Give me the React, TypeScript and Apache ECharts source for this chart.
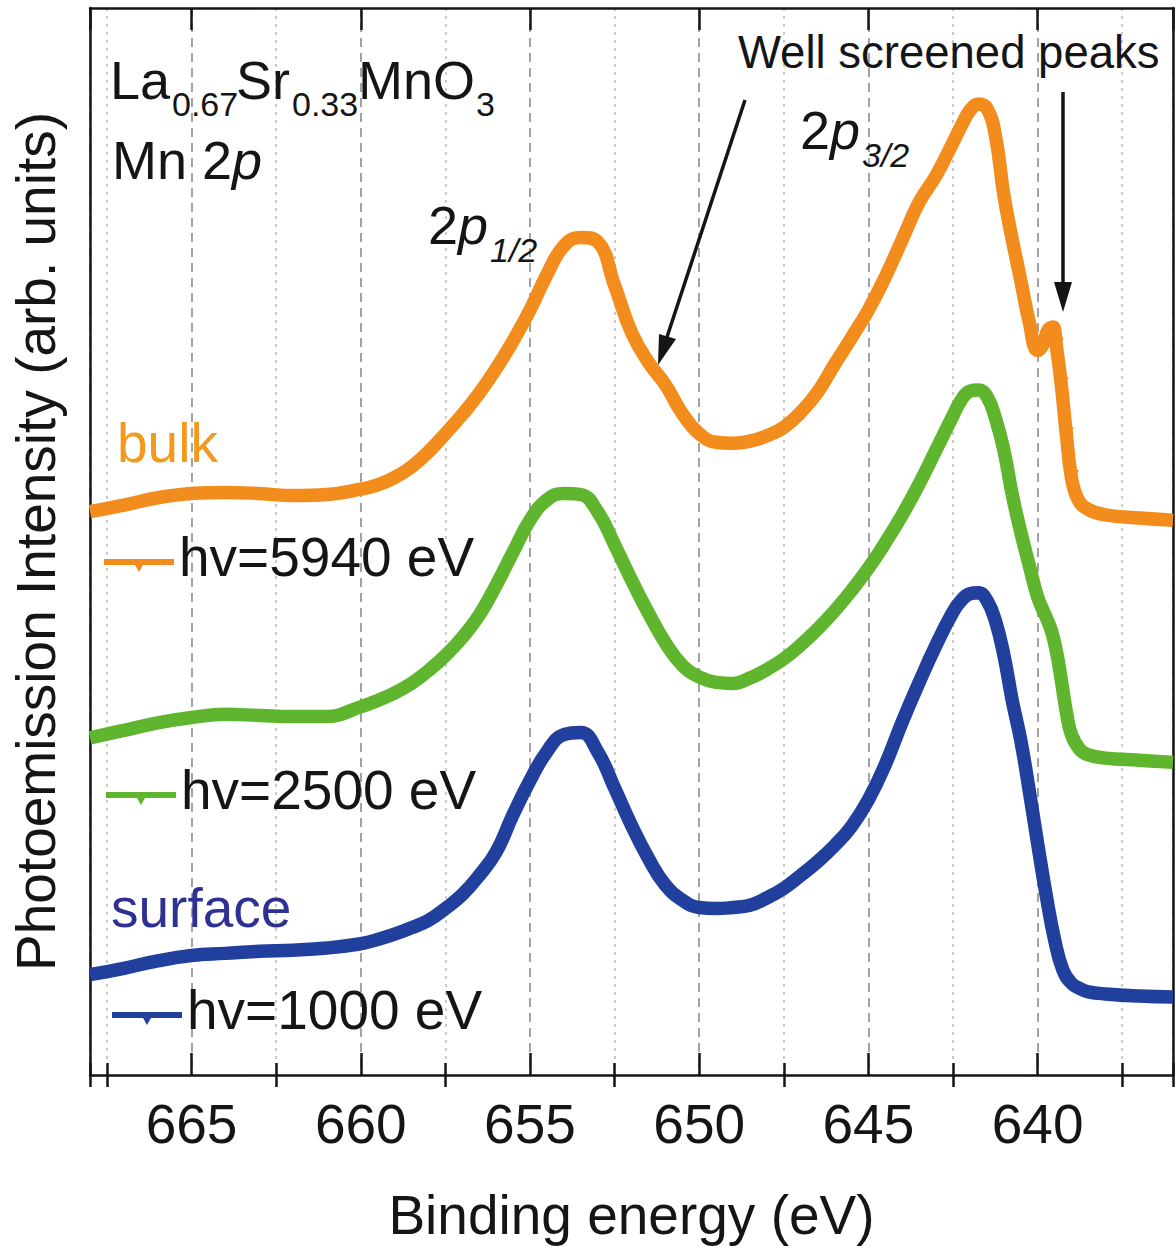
import React, { useEffect, useRef } from 'react';
import * as echarts from 'echarts';

// Binding energy (eV) and intensity (arb. units)
const bulkE = [668, 667, 666, 665, 664, 663, 662, 661, 660, 659.5, 659, 658.5, 658, 657.5, 657, 656.5, 656, 655.5, 655, 654.5, 654, 653.5, 653, 652.5, 652, 651.5, 651, 650.5, 650, 649.5, 649, 648.5, 648, 647.5, 647, 646.5, 646, 645.5, 645, 644.5, 644, 643.5, 643, 642.5, 642.25, 642, 641.75, 641.5, 641.25, 641, 640.75, 640.5, 640.25, 640, 639.85, 639.7, 639.55, 639.45, 639.3, 639.15, 639.0, 638.8, 638.5, 638, 637, 636];
const bulkI = [52.8, 53.4, 54.1, 54.5, 54.6, 54.5, 54.3, 54.4, 54.9, 55.3, 56.0, 57.0, 58.4, 60.1, 61.9, 63.9, 66.2, 68.8, 71.7, 75.0, 77.7, 78.5, 78.1, 74.0, 69.6, 66.8, 64.7, 62.0, 60.1, 59.3, 59.2, 59.4, 59.9, 60.7, 62.1, 64.0, 66.6, 69.1, 71.7, 74.8, 78.3, 81.8, 84.3, 87.4, 89.0, 90.4, 91.0, 90.6, 88.1, 82.5, 78.3, 74.5, 70.6, 67.9, 68.4, 69.8, 70.1, 68.4, 64.7, 60.0, 56.0, 53.9, 53.0, 52.5, 52.2, 52.0];
// points on the steep low-energy edge where single triangle markers are visible
const bulkMarked = [639.45, 639.3, 639.15, 639.0];

const midE = [668, 667, 666, 665, 664, 663, 662, 661, 660, 659.5, 659, 658.5, 658, 657.5, 657, 656.5, 656, 655.5, 655, 654.5, 654, 653.5, 653, 652.5, 652, 651.5, 651, 650.5, 650, 649.5, 649, 648.5, 648, 647.5, 647, 646.5, 646, 645.5, 645, 644.5, 644, 643.5, 643, 642.5, 642.25, 642, 641.75, 641.5, 641.25, 641, 640.75, 640.5, 640.25, 640, 639.75, 639.6, 639.45, 639.3, 639.15, 639.0, 638.75, 638.5, 638, 637, 636];
const midI = [31.6, 32.3, 33.0, 33.5, 33.8, 33.7, 33.6, 33.6, 34.5, 35.1, 35.8, 36.7, 37.9, 39.3, 41.0, 43.1, 45.9, 49.0, 52.0, 53.9, 54.5, 54.4, 52.8, 49.7, 46.4, 43.3, 40.5, 38.4, 37.3, 36.8, 36.7, 37.2, 38.0, 39.0, 40.3, 41.8, 43.5, 45.4, 47.5, 49.9, 52.5, 55.4, 58.6, 61.8, 63.3, 64.1, 64.2, 63.6, 61.6, 58.6, 54.4, 50.9, 47.8, 44.8, 42.9, 41.7, 39.8, 37.0, 34.0, 31.9, 30.5, 30.0, 29.7, 29.5, 29.3];

const surfE = [668, 667, 666, 665, 664, 663, 662, 661, 660, 659.5, 659, 658.5, 658, 657.5, 657, 656.5, 656, 655.5, 655, 654.5, 654, 653.5, 653, 652.5, 652, 651.5, 651, 650.5, 650, 649.5, 649, 648.5, 648, 647.5, 647, 646.5, 646, 645.5, 645, 644.5, 644, 643.5, 643, 642.5, 642.25, 642, 641.75, 641.5, 641.25, 641, 640.75, 640.5, 640.25, 640, 639.75, 639.5, 639.25, 639.0, 638.75, 638.5, 638, 637, 636];
const surfI = [9.4, 10.0, 10.7, 11.2, 11.4, 11.6, 11.7, 11.9, 12.3, 12.7, 13.2, 13.8, 14.5, 15.6, 16.9, 18.7, 20.9, 24.4, 27.6, 30.3, 31.9, 32.1, 30.3, 26.9, 23.4, 20.3, 17.8, 16.4, 15.7, 15.6, 15.7, 15.9, 16.6, 17.5, 18.7, 20.0, 21.5, 23.3, 25.8, 29.1, 33.1, 36.8, 40.3, 43.4, 44.5, 45.1, 45.2, 44.5, 42.6, 39.4, 35.1, 31.4, 26.7, 21.7, 16.9, 12.7, 9.8, 8.6, 8.1, 7.8, 7.6, 7.4, 7.3];

const seriesNames = ['hv=5940 eV', 'hv=2500 eV', 'hv=1000 eV'];
const seriesColors = ['#F28C1C', '#5FB52E', '#21409E'];

const FONT = '"Liberation Sans", Arial, Helvetica, sans-serif';
const INK = '#151515';
const LEGEND_ICON = 'path://M0,0L0.01,0Z M0,18L70,18L70,24L39,24L35,31L31,24L0,24Z';

function points(e: number[], v: number[], marked: number[] = []) {
  return e.map((x, i) =>
    marked.indexOf(x) >= 0
      ? { value: [x, v[i]], symbol: 'triangle', symbolSize: 15, symbolRotate: 180 }
      : [x, v[i]],
  );
}

function txt(text: string, x: number, y: number, size: number, extra: any = {}) {
  return {
    type: 'text',
    x,
    y,
    z: 20,
    style: {
      text,
      fontSize: size,
      fontFamily: FONT,
      fill: INK,
      align: 'left',
      textAlign: 'left',
      verticalAlign: 'middle',
      textVerticalAlign: 'middle',
      ...extra,
    },
  };
}

export default function App() {
  const ref = useRef<HTMLDivElement>(null);
  useEffect(() => {
    document.body.style.margin = '0';
    const chart = echarts.init(ref.current as HTMLDivElement, null, { renderer: 'svg' });

    const frame = { color: INK, width: 2.5 };
    const baseX = {
      type: 'value',
      inverse: true,
      splitNumber: 6,
      axisLine: { show: true, onZero: false, lineStyle: frame },
    };

    const legendCommon = {
      orient: 'horizontal',
      selectedMode: false,
      icon: LEGEND_ICON,
      itemWidth: 70,
      itemHeight: 31,
      padding: 0,
      textStyle: { fontSize: 55, color: INK, fontFamily: FONT },
    };

    const option: any = {
      animation: false,
      backgroundColor: '#ffffff',
      grid: { left: 88, right: 3, top: 8, bottom: 172, containLabel: false },
      xAxis: [
        {
          ...baseX,
          min: 636,
          max: 668,
          position: 'bottom',
          axisTick: { show: true, inside: true, length: 22, lineStyle: frame },
          axisLabel: {
            show: true,
            fontSize: 55,
            color: INK,
            fontFamily: FONT,
            margin: 21,
            showMinLabel: false,
            showMaxLabel: false,
          },
          splitLine: { show: true, lineStyle: { type: [9, 6], color: '#8c8c8c', width: 1.6 } },
          name: 'Binding energy (eV)',
          nameLocation: 'middle',
          nameGap: 112,
          nameTextStyle: { fontSize: 55, color: INK, fontFamily: FONT },
        },
        {
          ...baseX,
          min: 638.5,
          max: 670.5,
          position: 'bottom',
          axisLine: { show: false },
          axisTick: { show: true, inside: true, length: 12, lineStyle: frame },
          axisLabel: { show: false },
          splitLine: { show: true, lineStyle: { type: [3, 5], color: '#bdbdbd', width: 1.6 } },
        },
        {
          ...baseX,
          min: 636,
          max: 668,
          position: 'top',
          axisTick: { show: true, inside: true, length: 22, lineStyle: frame },
          axisLabel: { show: false },
          splitLine: { show: false },
        },
        {
          ...baseX,
          min: 638.5,
          max: 670.5,
          position: 'top',
          axisLine: { show: false },
          axisTick: { show: true, inside: true, length: 12, lineStyle: frame },
          axisLabel: { show: false },
          splitLine: { show: false },
        },
      ],
      yAxis: [
        {
          type: 'value',
          min: 0,
          max: 100,
          position: 'left',
          axisLine: { show: true, onZero: false, lineStyle: frame },
          axisTick: { show: false },
          axisLabel: { show: false },
          splitLine: { show: false },
          name: 'Photoemission Intensity (arb. units)',
          nameLocation: 'middle',
          nameRotate: 90,
          nameGap: 27,
          nameTextStyle: { fontSize: 55, color: INK, fontFamily: FONT },
        },
        {
          type: 'value',
          min: 0,
          max: 100,
          position: 'right',
          axisLine: { show: true, onZero: false, lineStyle: frame },
          axisTick: { show: false },
          axisLabel: { show: false },
          splitLine: { show: false },
        },
      ],
      legend: [
        { ...legendCommon, data: [seriesNames[0]], left: 104, top: 529 },
        { ...legendCommon, data: [seriesNames[1]], left: 106, top: 762 },
        { ...legendCommon, data: [seriesNames[2]], left: 112, top: 982 },
      ],
      series: [
        [bulkE, bulkI, bulkMarked],
        [midE, midI, []],
        [surfE, surfI, []],
      ].map(([e, v, m], i) => ({
        name: seriesNames[i],
        type: 'line',
        xAxisIndex: 0,
        yAxisIndex: 0,
        data: points(e as number[], v as number[], m as number[]),
        smooth: 0.45,
        symbol: 'none',
        showSymbol: true,
        lineStyle: { width: 13.5, color: seriesColors[i] },
        itemStyle: { color: seriesColors[i] },
        z: 5 + i,
      })),
      graphic: [
        txt('La', 110, 80, 54),
        txt('0.67', 172, 104, 34),
        txt('Sr', 236, 80, 54),
        txt('0.33', 292, 104, 34),
        txt('MnO', 358, 80, 54),
        txt('3', 476, 104, 34),
        txt('Mn 2', 112, 160, 54),
        txt('p', 232, 160, 54, { fontStyle: 'italic' }),
        txt('2', 428, 225, 54),
        txt('p', 458, 225, 54, { fontStyle: 'italic' }),
        txt('1/2', 490, 250, 34, { fontStyle: 'italic' }),
        txt('2', 800, 130, 54),
        txt('p', 830, 130, 54, { fontStyle: 'italic' }),
        txt('3/2', 862, 155, 34, { fontStyle: 'italic' }),
        txt('Well screened peaks', 738, 52, 45.5),
        txt('bulk', 117, 443, 55, { fill: '#F39A1E' }),
        txt('surface', 111, 908, 55, { fill: '#2E3192' }),
        {
          type: 'line',
          z: 20,
          shape: { x1: 745, y1: 100, x2: 667, y2: 337 },
          style: { stroke: INK, lineWidth: 3.5 },
        },
        {
          type: 'polygon',
          z: 20,
          shape: { points: [[658, 365], [676, 339], [659, 334]] },
          style: { fill: INK },
        },
        {
          type: 'line',
          z: 20,
          shape: { x1: 1063, y1: 92, x2: 1063, y2: 286 },
          style: { stroke: INK, lineWidth: 3.5 },
        },
        {
          type: 'polygon',
          z: 20,
          shape: { points: [[1063, 312], [1054, 282], [1072, 282]] },
          style: { fill: INK },
        },
      ],
    };

    chart.setOption(option);
    return () => chart.dispose();
  }, []);

  return (
    <div
      ref={ref}
      style={{ position: 'absolute', left: 0, top: 0, width: 1176, height: 1247, background: '#fff' }}
    />
  );
}
